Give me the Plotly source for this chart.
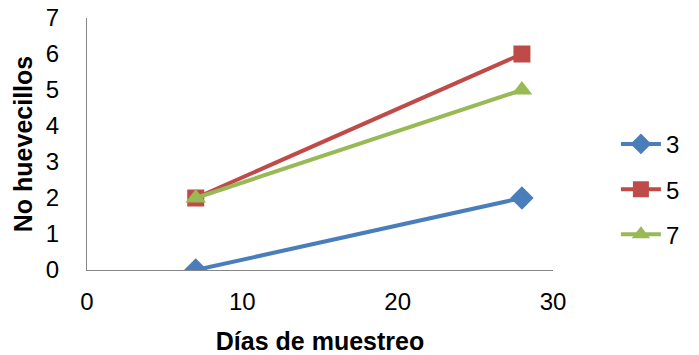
import plotly.graph_objects as go

# Sampling days and egg counts per treatment
dias = [7, 28]
series_names = ["3", "5", "7"]
values_3 = [0, 2]
values_5 = [2, 6]
values_7 = [2, 5]

colors = ["#4A7EBB", "#BE4B48", "#98B954"]
symbols = ["diamond", "square", "triangle-up"]
sizes = [18, 17, 18]

fig = go.Figure()
for name, vals, c, s, sz in zip(series_names, [values_3, values_5, values_7], colors, symbols, sizes):
    fig.add_trace(go.Scatter(
        x=dias, y=vals, name=name, mode="lines+markers", legendgroup=name,
        line=dict(color=c, width=4),
        marker=dict(symbol=s, size=sz, color=c),
    ))

font_family = "Liberation Sans, Arial, sans-serif"
fig.update_layout(
    width=699, height=355,
    margin=dict(l=87, r=146, t=18, b=85),
    paper_bgcolor="white", plot_bgcolor="white",
    font=dict(family=font_family, size=24, color="black"),
    showlegend=True,
    legend=dict(x=1.135, y=0.32, xanchor="left", yanchor="middle",
                font=dict(size=24), tracegroupgap=11, itemwidth=40),
    xaxis=dict(range=[0, 30], tickvals=[0, 10, 20, 30], showgrid=False,
               zeroline=False, showline=True, linecolor="#868686", linewidth=1,
               ticks="", ticklabelstandoff=10, tickfont=dict(size=24), automargin=False,
               title=dict(text="<b>Días de muestreo</b>", font=dict(size=25), standoff=18)),
    yaxis=dict(range=[0, 7], tickvals=list(range(8)), showgrid=False,
               zeroline=False, showline=True, linecolor="#868686", linewidth=1,
               ticks="", ticklabelstandoff=22, tickfont=dict(size=24), automargin=False,
               title=dict(text="<b>No huevecillos</b>", font=dict(size=25), standoff=6)),
)

fig.write_html("out.html")
